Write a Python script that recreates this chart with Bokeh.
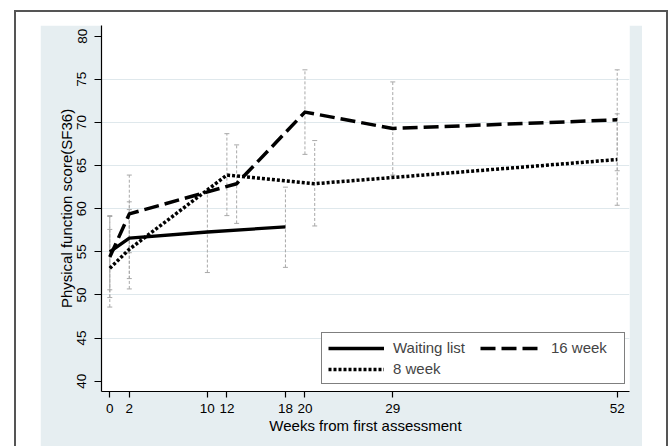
from bokeh.plotting import figure
from bokeh.models import Range1d, FixedTicker, Legend, LegendItem
from bokeh.layouts import column
from bokeh.embed import file_html
from bokeh.resources import INLINE

# ---------------- data ----------------
x_ticks = [0, 2, 10, 12, 18, 20, 29, 52]
y_ticks = [40, 45, 50, 55, 60, 65, 70, 75, 80]
grid_ticks = [45, 50, 55, 60, 65, 70, 75]

waiting_weeks = [0, 2, 10, 18]
waiting_mean = [55.0, 56.6, 57.3, 57.9]
waiting_lo = [50.6, 51.9, 52.6, 53.2]
waiting_hi = [59.2, 60.8, 61.9, 62.5]

eight_weeks = [0, 2, 12, 21, 52]
eight_mean = [53.1, 55.3, 63.9, 62.9, 65.7]
eight_lo = [48.6, 50.7, 59.2, 58.0, 60.4]
eight_hi = [57.6, 59.9, 68.7, 67.9, 71.0]

sixteen_weeks = [0, 2, 13, 20, 29, 52]
sixteen_mean = [54.4, 59.4, 62.9, 71.2, 69.3, 70.3]
sixteen_lo = [49.7, 54.9, 58.3, 66.3, 63.9, 64.4]
sixteen_hi = [59.1, 63.9, 67.4, 76.1, 74.7, 76.1]

labels = ["Waiting list", "8 week", "16 week"]

# ---------------- styles ----------------
FONT = "Liberation Sans"
PANEL = "#e6eef1"
GRID = "#dfe8ec"
ERR = "#a8a8a8"

p = figure(width=602, height=421, output_backend="svg", toolbar_location=None,
           x_range=Range1d(-0.85, 53.26), y_range=Range1d(38.81, 81.24),
           min_border_left=61, min_border_right=13, min_border_top=0,
           min_border_bottom=55, background_fill_color="white",
           border_fill_color=PANEL)
p.outline_line_color = None
p.xgrid.visible = False
p.ygrid.ticker = FixedTicker(ticks=grid_ticks)
p.ygrid.grid_line_color = GRID
p.ygrid.grid_line_width = 1.2

for ax in (p.xaxis[0], p.yaxis[0]):
    ax.axis_line_color = "black"
    ax.axis_line_width = 1.2
    ax.major_tick_line_color = "black"
    ax.major_tick_line_width = 1.2
    ax.minor_tick_line_color = None
    ax.major_tick_in = 0
    ax.major_label_text_font = FONT
    ax.major_label_text_font_size = "13.5px"
    ax.major_label_text_color = "black"
    ax.axis_label_text_font = FONT
    ax.axis_label_text_font_size = "15px"
    ax.axis_label_text_font_style = "normal"
    ax.axis_label_text_color = "black"

p.xaxis.ticker = FixedTicker(ticks=x_ticks)
p.xaxis.major_tick_out = 6
p.xaxis.major_label_standoff = 6
p.xaxis.axis_label = "Weeks from first assessment"
p.xaxis.axis_label_standoff = 1

p.yaxis.ticker = FixedTicker(ticks=y_ticks)
p.yaxis.major_tick_out = 7
p.yaxis.major_label_standoff = 8
p.yaxis.major_label_orientation = "vertical"
p.yaxis.axis_label = "Physical function score(SF36)"
p.yaxis.axis_label_standoff = 0

# confidence interval bars (dashed grey with small caps)
for wk, lo, hi in ((waiting_weeks, waiting_lo, waiting_hi),
                   (eight_weeks, eight_lo, eight_hi),
                   (sixteen_weeks, sixteen_lo, sixteen_hi)):
    p.segment(x0=wk, y0=lo, x1=wk, y1=hi, line_color=ERR, line_width=1,
              line_dash="3 2")
    p.scatter(x=wk + wk, y=lo + hi, marker="dash", size=5, line_color=ERR,
              line_width=1)

r_wait = p.line(waiting_weeks, waiting_mean, line_color="black", line_width=3.3,
                line_join="round")
r_16 = p.line(sixteen_weeks, sixteen_mean, line_color="black", line_width=3.5,
              line_dash="15 6", line_join="round")
r_8 = p.line(eight_weeks, eight_mean, line_color="black", line_width=3.5,
             line_dash="3 2", line_join="round")

common = dict(label_text_font=FONT, label_text_font_size="15px",
              label_standoff=9, glyph_height=16, label_height=16, padding=6,
              margin=0)
leg_a = Legend(items=[LegendItem(label=labels[0], renderers=[r_wait]),
                      LegendItem(label=labels[1], renderers=[r_8])],
               location=(220, 7), orientation="vertical", glyph_width=56,
               label_width=225, spacing=4, border_line_color="black",
               border_line_width=1, background_fill_color="white",
               background_fill_alpha=1.0, **common)
leg_b = Legend(items=[LegendItem(label=labels[2], renderers=[r_16])],
               location=(379, 35), orientation="vertical", glyph_width=62,
               border_line_color=None, background_fill_alpha=0.0, **common)
p.add_layout(leg_a, "center")
p.add_layout(leg_b, "center")

p.margin = (13, 24, 0, 24)
page = column(p, styles={"border": "2px solid #555555", "border-bottom": "none",
                         "background-color": "white"})
page.margin = (10, 0, 0, 14)

open("out.html", "w").write(file_html(page, INLINE))
